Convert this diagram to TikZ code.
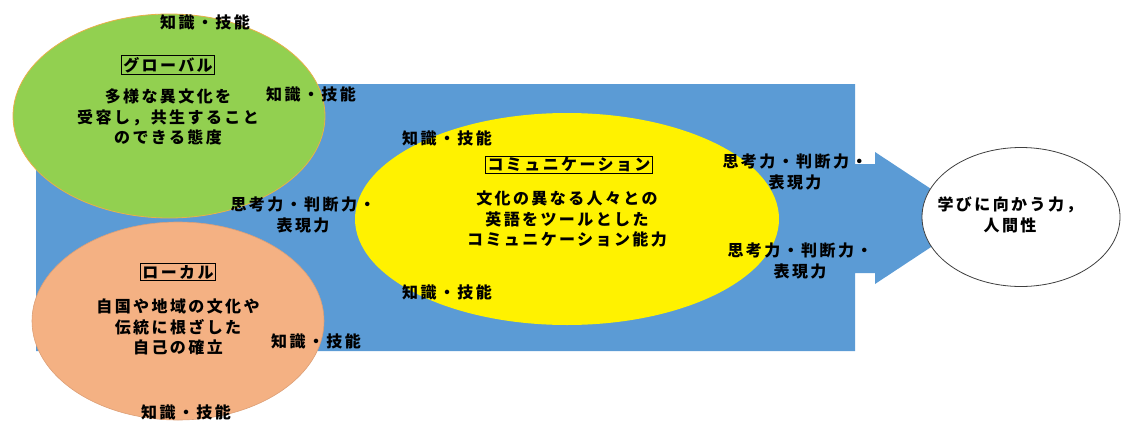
\documentclass[tikz,border=0pt]{standalone}
\usepackage{fontspec}
\usetikzlibrary{shapes.geometric}
\newfontfamily\jp[LetterSpace=15]{Noto Sans CJK JP}
\definecolor{bluebg}{HTML}{5B9BD5}
\definecolor{greenell}{HTML}{92D050}
\definecolor{orangeell}{HTML}{F4B183}
\definecolor{goldline}{HTML}{E8B04A}
\begin{document}
\begin{tikzpicture}[x=1pt,y=-1pt,
  lbl/.style={font=\jp\bfseries\fontsize{16}{20.5}\selectfont, align=center, inner sep=0pt},
  titlebox/.style={lbl, draw=black, line width=0.8pt, inner xsep=2pt, inner ysep=1.5pt},
  ell/.style={ellipse, inner sep=0pt}]
\useasboundingbox (0,0) rectangle (1121,423);
% blue body with arrow
\fill[bluebg] (36,84) -- (855,84) -- (855,164) -- (875,164) -- (875,152) -- (975,218)
  -- (875,284) -- (875,273) -- (855,273) -- (855,351) -- (36,351) -- cycle;
% ellipses
\node[ell, fill=greenell, draw=goldline, line width=0.8pt, minimum width=312pt, minimum height=204pt] (glob) at (169,116) {};
\node[ell, fill=orangeell, draw=orangeell!90!black, line width=0.6pt, minimum width=292pt, minimum height=198pt] (loc) at (178,321) {};
\node[ell, fill=yellow, minimum width=424pt, minimum height=212pt] (comm) at (567,219) {};
\node[ell, fill=white, draw=black!75, line width=0.8pt, minimum width=198pt, minimum height=139pt] (learn) at (1021,217) {};
% titles
\node[titlebox] (gt) at (168,65) {グローバル};
\node[titlebox] (ct) at (569,165) {コミュニケーション};
\node[titlebox] (lt) at (178,272) {ローカル};
% bodies
\node[lbl] (gb) at (168,117) {多様な異文化を\\受容し，共生すること\\のできる態度};
\node[lbl] (cb) at (567,219) {文化の異なる人々との\\英語をツールとした\\コミュニケーション能力};
\node[lbl] (lb) at (178,327) {自国や地域の文化や\\伝統に根ざした\\自己の確立};
\node[lbl] (wb) at (1010,215) {学びに向かう力，\\人間性};
% knowledge labels
\node[lbl] (k1) at (205,22) {知識・技能};
\node[lbl] (k2) at (311,94) {知識・技能};
\node[lbl] (k3) at (447,138) {知識・技能};
\node[lbl] (k4) at (447,292) {知識・技能};
\node[lbl] (k5) at (316,341) {知識・技能};
\node[lbl] (k6) at (186,412) {知識・技能};
% thinking labels
\node[lbl] (s1) at (303,215) {思考力・判断力・\\表現力};
\node[lbl] (s2) at (795,172) {思考力・判断力・\\表現力};
\node[lbl] (s3) at (800,261) {思考力・判断力・\\表現力};
\end{tikzpicture}
\end{document}
